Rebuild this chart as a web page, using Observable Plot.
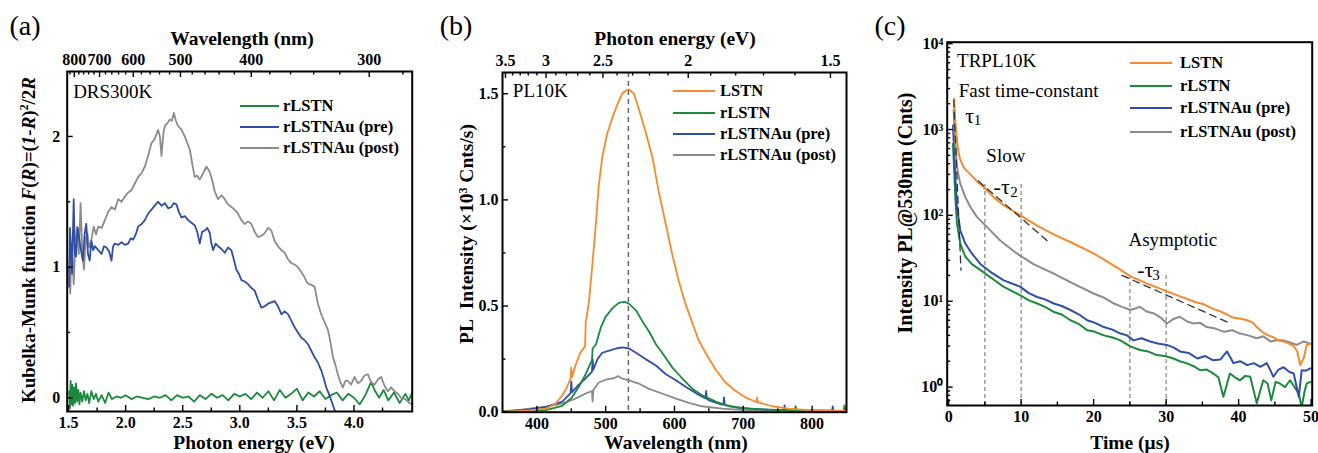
<!DOCTYPE html>
<html><head><meta charset="utf-8">
<script src="https://cdn.jsdelivr.net/npm/d3@7"></script>
<script src="https://cdn.jsdelivr.net/npm/@observablehq/plot@0.6"></script>
<style>
body{margin:0;background:#fff;}
#root{position:relative;width:1318px;height:453px;overflow:hidden;font-family:"Liberation Serif","Times New Roman",serif;color:#000;background:#fff;}
.abs{position:absolute;white-space:nowrap;line-height:1;}
.panel{position:absolute;top:0;}
sup{font-size:0.62em;vertical-align:0.55em;line-height:0;}
</style></head><body><div id="root"></div>
<script>
// ---------------- colours ----------------
const cOrange = "#F68A2C", cGreen = "#1B8A3C", cBlue = "#2F4EA6", cGray = "#8B8B8B";

// ---------------- panel (a): DRS 300K, [photon energy eV, F(R)] ----------------
const aRLSTN = [[1.505,0.05],[1.512,-0.08],[1.518,0.13],[1.525,-0.05],[1.532,0.10],[1.540,-0.06],[1.548,0.08],[1.556,-0.04],[1.565,0.11],[1.575,-0.03],[1.585,0.06],[1.595,-0.05],[1.605,0.04],[1.62,-0.03],[1.635,0.05],[1.65,-0.02],[1.665,0.03],[1.68,-0.04],[1.70,0.05],[1.72,-0.01],[1.74,0.03],[1.76,-0.03],[1.79,0.02],[1.82,-0.04],[1.85,0.04],[1.88,-0.01],[1.92,0.01],[1.96,0.00],[2.00,0.02],[2.05,-0.01],[2.10,0.01],[2.15,0.00],[2.20,-0.01],[2.25,0.01],[2.30,0.00],[2.35,0.02],[2.40,-0.02],[2.45,0.02],[2.50,0.00],[2.55,0.01],[2.60,-0.03],[2.65,0.02],[2.70,-0.01],[2.75,0.03],[2.80,0.00],[2.85,0.02],[2.90,-0.02],[2.95,0.03],[3.00,0.01],[3.05,0.03],[3.10,-0.01],[3.15,0.04],[3.20,0.00],[3.25,0.05],[3.30,-0.02],[3.35,0.06],[3.40,0.00],[3.45,0.03],[3.50,0.07],[3.55,-0.02],[3.60,0.04],[3.65,0.01],[3.70,0.05],[3.75,-0.01],[3.80,0.02],[3.85,0.04],[3.90,-0.02],[3.95,0.03],[4.00,0.00],[4.05,-0.05],[4.10,0.02],[4.15,0.12],[4.18,0.06],[4.22,0.00],[4.26,0.06],[4.30,-0.02],[4.35,0.04],[4.40,-0.04],[4.45,0.03],[4.48,-0.02],[4.51,0.04]];
const aPre = [[1.505,0.85],[1.512,1.30],[1.52,1.18],[1.53,0.95],[1.545,1.52],[1.555,1.10],[1.565,1.08],[1.58,1.30],[1.595,1.21],[1.61,1.12],[1.625,1.05],[1.64,1.25],[1.655,1.33],[1.67,1.10],[1.685,1.05],[1.70,1.20],[1.716,1.13],[1.73,1.16],[1.76,1.13],[1.789,1.10],[1.81,1.16],[1.832,1.15],[1.855,1.12],[1.876,1.05],[1.89,1.16],[1.905,1.18],[1.935,1.17],[1.964,1.19],[1.993,1.17],[2.022,1.18],[2.044,1.22],[2.066,1.21],[2.088,1.25],[2.110,1.31],[2.140,1.33],[2.168,1.36],[2.197,1.41],[2.226,1.44],[2.255,1.47],[2.284,1.50],[2.314,1.47],[2.343,1.49],[2.372,1.45],[2.401,1.46],[2.420,1.49],[2.445,1.48],[2.467,1.42],[2.489,1.38],[2.518,1.39],[2.547,1.36],[2.576,1.34],[2.605,1.32],[2.627,1.27],[2.649,1.18],[2.670,1.27],[2.693,1.28],[2.715,1.30],[2.737,1.26],[2.751,1.18],[2.766,1.13],[2.788,1.18],[2.809,1.16],[2.838,1.14],[2.868,1.11],[2.897,1.15],[2.926,1.13],[2.950,1.05],[2.970,0.98],[2.992,0.95],[3.014,0.90],[3.043,0.89],[3.072,0.87],[3.101,0.84],[3.130,0.82],[3.160,0.75],[3.189,0.69],[3.218,0.70],[3.247,0.72],[3.276,0.73],[3.305,0.74],[3.334,0.70],[3.364,0.64],[3.393,0.66],[3.422,0.64],[3.451,0.59],[3.480,0.54],[3.509,0.50],[3.539,0.46],[3.568,0.44],[3.597,0.41],[3.626,0.36],[3.655,0.31],[3.684,0.27],[3.713,0.21],[3.735,0.15],[3.757,0.08],[3.780,0.03],[3.801,-0.02],[3.825,-0.08],[3.845,-0.13]];
const aPost = [[1.505,1.00],[1.515,0.80],[1.525,1.18],[1.535,1.05],[1.545,0.87],[1.56,1.20],[1.575,1.31],[1.59,1.10],[1.605,1.49],[1.62,1.12],[1.635,0.98],[1.65,1.22],[1.665,1.26],[1.68,1.15],[1.70,1.21],[1.72,1.31],[1.74,1.25],[1.76,1.31],[1.79,1.30],[1.818,1.36],[1.845,1.42],[1.876,1.46],[1.905,1.44],[1.935,1.52],[1.964,1.50],[1.993,1.54],[2.022,1.57],[2.051,1.59],[2.080,1.64],[2.110,1.69],[2.140,1.72],[2.168,1.77],[2.197,1.85],[2.226,1.95],[2.255,1.98],[2.284,2.05],[2.300,2.00],[2.314,1.85],[2.330,2.02],[2.343,2.08],[2.365,2.10],[2.387,2.13],[2.405,2.12],[2.422,2.18],[2.440,2.12],[2.459,2.08],[2.490,2.05],[2.518,2.00],[2.540,1.95],[2.562,1.90],[2.585,1.78],[2.605,1.69],[2.627,1.70],[2.649,1.67],[2.680,1.72],[2.707,1.77],[2.730,1.74],[2.751,1.69],[2.780,1.58],[2.809,1.52],[2.840,1.55],[2.868,1.52],[2.897,1.48],[2.926,1.46],[2.955,1.44],[2.984,1.41],[3.013,1.36],[3.043,1.33],[3.072,1.35],[3.101,1.33],[3.130,1.27],[3.159,1.23],[3.190,1.24],[3.218,1.26],[3.247,1.30],[3.276,1.28],[3.305,1.20],[3.334,1.16],[3.364,1.13],[3.393,1.11],[3.422,1.06],[3.451,1.03],[3.480,1.02],[3.509,1.00],[3.540,0.96],[3.568,0.92],[3.590,0.88],[3.611,0.87],[3.635,0.86],[3.655,0.85],[3.684,0.72],[3.713,0.64],[3.742,0.58],[3.772,0.52],[3.795,0.42],[3.816,0.31],[3.838,0.25],[3.859,0.18],[3.880,0.12],[3.903,0.08],[3.925,0.13],[3.947,0.13],[3.975,0.10],[4.005,0.16],[4.035,0.11],[4.063,0.13],[4.092,0.17],[4.122,0.18],[4.150,0.12],[4.180,0.10],[4.210,0.14],[4.238,0.16],[4.268,0.09],[4.297,0.05],[4.326,0.08],[4.355,0.05],[4.385,0.03],[4.413,0.00],[4.450,-0.01],[4.486,-0.04],[4.51,-0.05]];
const aBottomTicks = [1.5, 2.0, 2.5, 3.0, 3.5, 4.0];
const aLeftTicks = [0, 1, 2];
const aTopWavelengths = [800, 700, 600, 500, 400, 300];

// ---------------- panel (b): PL 10K, [wavelength nm, intensity x10^3] ----------------
const bLSTN = [[350,0.003],[370,0.005],[390,0.009],[413,0.017],[427,0.04],[437,0.08],[444,0.12],[449,0.16],[450,0.21],[451,0.165],[456,0.22],[463,0.28],[470,0.31],[471,0.43],[472,0.44],[476,0.53],[481,0.71],[486,0.90],[490,1.07],[495,1.20],[502,1.31],[510,1.39],[517,1.45],[524,1.50],[529,1.515],[534,1.52],[541,1.50],[548,1.43],[558,1.32],[568,1.20],[577,1.04],[587,0.89],[597,0.74],[606,0.62],[616,0.51],[626,0.42],[635,0.34],[645,0.28],[660,0.20],[674,0.14],[689,0.10],[703,0.07],[719,0.048],[720,0.068],[721,0.047],[742,0.028],[766,0.017],[800,0.009],[849,0.006]];
const bRLSTN = [[350,0.004],[390,0.006],[413,0.01],[437,0.03],[451,0.07],[461,0.12],[471,0.18],[480,0.245],[481,0.30],[486,0.32],[493,0.40],[500,0.45],[510,0.49],[519,0.515],[527,0.52],[534,0.51],[544,0.48],[553,0.43],[563,0.38],[573,0.32],[582,0.28],[597,0.21],[611,0.16],[626,0.11],[640,0.08],[660,0.05],[679,0.028],[708,0.017],[751,0.009],[775,0.008],[776,0.028],[777,0.008],[846,0.006],[847,0.032],[849,0.006]];
const bPre = [[350,0.004],[389,0.013],[413,0.025],[437,0.05],[449,0.09],[450,0.145],[451,0.095],[461,0.13],[471,0.16],[480,0.19],[481,0.25],[482,0.20],[488,0.25],[495,0.28],[505,0.29],[515,0.30],[524,0.305],[534,0.30],[544,0.28],[558,0.25],[573,0.22],[587,0.18],[602,0.15],[616,0.12],[631,0.09],[645,0.065],[646,0.10],[647,0.063],[650,0.056],[669,0.036],[671,0.036],[672,0.07],[673,0.035],[693,0.02],[727,0.013],[759,0.01],[760,0.032],[761,0.01],[776,0.009],[829,0.007],[830,0.027],[831,0.007],[849,0.006]];
const bPost = [[350,0.004],[365,0.006],[389,0.017],[413,0.025],[437,0.04],[456,0.064],[471,0.088],[480,0.10],[481,0.05],[482,0.105],[490,0.14],[500,0.153],[512,0.16],[518,0.17],[524,0.158],[534,0.15],[548,0.135],[563,0.11],[582,0.088],[602,0.064],[621,0.044],[640,0.028],[669,0.017],[708,0.009],[776,0.006],[849,0.005]];
const bPeakWavelength = 533;
const bBottomTicks = [400, 500, 600, 700, 800];
const bLeftTicks = [0, 0.5, 1.0, 1.5];
const bTopEnergies = [3.5, 3, 2.5, 2, 1.5];

// ---------------- panel (c): TRPL 10K, [time us, counts] ----------------
const cLSTN = [[0.75,2280],[0.9,1300],[1.06,895],[1.2,700],[1.38,525],[1.6,450],[2.07,363],[2.5,330],[3.0,300],[3.9,250],[5.06,204],[6.2,163],[7.6,131],[9.9,100],[12.2,76],[14.5,60],[17.2,47],[20.0,36],[22.8,26],[25.1,19.5],[27.4,16],[30.1,13],[32.4,11],[34.0,9.8],[35.2,9.2],[36.4,8.2],[37.5,7.6],[38.4,7.0],[39.3,6.4],[40.2,6.3],[41.2,6.0],[42.0,5.6],[42.5,5.0],[43.4,4.3],[44.1,4.0],[44.8,3.8],[45.5,3.5],[46.2,3.4],[47.0,3.2],[47.6,3.0],[48.1,2.6],[48.5,1.8],[49.0,2.2],[49.4,3.1],[49.9,3.2]];
const cRLSTN = [[0.6,680],[0.8,280],[0.92,163],[1.15,80],[1.6,47],[2.3,33],[3.2,27],[4.4,23],[5.75,19],[7.6,14.7],[9.9,11.7],[11.0,10.3],[12.2,9.4],[13.3,8.6],[14.5,7.5],[15.6,7.0],[16.8,6.0],[18.0,5.4],[19.1,4.6],[20.2,4.4],[21.4,4.0],[22.5,3.8],[23.7,3.5],[25.0,3.0],[26.4,2.7],[27.5,2.6],[28.7,2.36],[29.8,2.3],[31.0,2.15],[31.9,2.0],[32.8,1.9],[33.8,1.75],[34.7,1.57],[35.6,1.6],[36.5,1.44],[37.2,1.3],[37.9,0.77],[38.8,1.44],[39.5,1.3],[40.2,1.2],[40.9,1.35],[41.6,1.32],[42.5,0.65],[43.4,1.2],[44.0,1.1],[44.5,0.70],[45.1,1.15],[45.7,1.1],[46.4,1.0],[47.1,1.2],[47.7,1.0],[48.3,0.84],[48.7,0.58],[49.1,0.9],[49.4,1.1],[49.9,1.15]];
const cPre = [[0.6,1110],[0.8,450],[0.92,280],[1.15,125],[1.6,67],[2.3,47],[3.2,36],[4.4,27],[5.75,22],[7.6,17.5],[9.9,14.7],[11.0,12.5],[12.2,11.2],[13.3,10.5],[14.5,9.4],[15.6,8.8],[16.8,7.9],[18.0,7.0],[19.1,6.0],[20.2,5.6],[21.4,5.0],[22.5,4.7],[23.7,4.2],[24.6,4.0],[25.5,3.5],[26.6,3.7],[27.8,3.4],[29.0,3.2],[30.1,3.1],[31.0,2.9],[31.9,2.6],[33.1,2.5],[34.3,2.15],[35.4,2.3],[36.5,2.05],[37.5,2.1],[38.4,2.6],[39.3,1.9],[40.2,2.0],[41.2,1.8],[42.1,1.9],[43.0,1.72],[43.9,1.9],[44.8,1.32],[45.5,1.6],[46.2,1.7],[47.0,1.5],[47.6,1.44],[48.3,0.77],[48.7,1.57],[49.3,1.55],[49.9,1.65]];
const cPost = [[0.69,1700],[0.8,1000],[0.92,680],[1.15,364],[1.6,234],[2.3,163],[3.0,125],[3.9,96],[5.3,73],[7.1,51],[9.4,36],[11.7,27],[14.5,21],[17.2,16],[20.0,12.3],[21.4,11.0],[22.8,9.4],[23.9,8.6],[25.1,7.9],[26.4,8.6],[27.3,7.6],[28.3,7.2],[29.2,6.5],[30.1,5.5],[31.0,6.2],[31.9,6.6],[32.9,5.8],[33.8,5.5],[34.7,5.6],[35.6,5.0],[36.8,4.8],[38.0,4.4],[39.1,4.6],[40.2,4.2],[41.3,4.0],[42.5,3.7],[43.4,3.9],[44.4,3.4],[45.3,3.5],[46.2,3.5],[47.1,3.3],[48.0,3.1],[49.0,3.4],[49.9,3.2]];
const cFit1 = [[0.7,2200],[1.7,23]];
const cFit2 = [[4.1,251],[13.8,49]];
const cFit3 = [[23.9,20],[38.9,5.5]];
const cGuideT = [5, 10, 25, 30];
const cGuideTop = [244, 233, 20, 20];
const cNoteText = ["TRPL10K", "Fast time-constant", "Slow", "Asymptotic"];
const cNoteT = [1.16, 1.38, 5.2, 24.8];
const cNoteV = [6225, 2840, 499, 52];
const cTauText = ["τ", "-τ", "-τ"];
const cTauT = [2.3, 6.2, 26.0];
const cTauV = [1455, 213, 23.4];
const cSubText = ["1", "2", "3"];
const cSubT = [3.45, 8.5, 28.1];
const cSubV = [1273, 187, 20];
const cBottomTicks = [0, 10, 20, 30, 40, 50];
const cLeftTicks = [1, 10, 100, 1000, 10000];

const legendNames4 = ["LSTN", "rLSTN", "rLSTNAu (pre)", "rLSTNAu (post)"];
const legendColors4 = [cOrange, cGreen, cBlue, cGray];

// ---------------- helpers ----------------
const TF = 16; // tick label font size
const root = document.getElementById("root");
const baseStyle = {fontFamily: "'Liberation Serif','Times New Roman',serif", fontSize: TF + "px", fontWeight: "bold", background: "transparent", color: "black", overflow: "visible"};
const pts = arr => arr.map(([x, y]) => ({x, y}));
function xTicks(vals, len, side, fh) {
  return Plot.ruleX(vals, {x: d => d, stroke: "black", strokeWidth: 1.4,
    insetTop: side === "bottom" ? fh - len : 0, insetBottom: side === "top" ? fh - len : 0});
}
function yTicks(vals, len, fw) {
  return Plot.ruleY(vals, {y: d => d, stroke: "black", strokeWidth: 1.4, insetRight: fw - len});
}
function panel(svg, left) {
  const d = document.createElement("div");
  d.className = "panel";
  d.style.left = left + "px";
  d.appendChild(svg);
  root.appendChild(d);
}
function txt(html, x, y, css) {
  const d = document.createElement("div");
  d.className = "abs";
  d.innerHTML = html;
  d.style.left = x + "px";
  d.style.top = y + "px";
  d.style.cssText += css || "";
  root.appendChild(d);
  return d;
}
function legend(names, colors, x1, x2, xt, ys) {
  names.forEach((n, i) => {
    const s = document.createElement("div");
    s.className = "abs";
    s.style.cssText = `left:${x1}px;top:${ys[i] - 1.2}px;width:${x2 - x1}px;height:0;border-top:2.4px solid ${colors[i]};`;
    root.appendChild(s);
    txt(n, xt, ys[i], "transform:translateY(-50%);font-weight:bold;font-size:16.5px;");
  });
}

// ---------------- panel (a) ----------------
{
  const W = 430, H = 453, mL = 66.7, mR = 18.3, mT = 71, mB = 42;
  const fw = W - mL - mR, fh = H - mT - mB;
  const topMajor = aTopWavelengths.map(w => 1240 / w);
  const topMinor = d3.range(280, 830, 20).filter(w => w % 100 !== 0).map(w => 1240 / w);
  const svg = Plot.plot({
    width: W, height: H, marginLeft: mL, marginRight: mR, marginTop: mT, marginBottom: mB,
    x: {domain: [1.488, 4.51]}, y: {domain: [-0.105, 2.497]},
    style: baseStyle,
    marks: [
      Plot.line(pts(aRLSTN), {x: "x", y: "y", stroke: cGreen, strokeWidth: 1.8, clip: true}),
      Plot.line(pts(aPost), {x: "x", y: "y", stroke: cGray, strokeWidth: 1.8, clip: true}),
      Plot.line(pts(aPre), {x: "x", y: "y", stroke: cBlue, strokeWidth: 1.8, clip: true}),
      xTicks(aBottomTicks, 6, "bottom", fh),
      xTicks(d3.range(1.75, 4.5, 0.5), 3.5, "bottom", fh),
      xTicks(topMajor, 6, "top", fh),
      xTicks(topMinor, 3.5, "top", fh),
      yTicks(aLeftTicks, 6, fw),
      yTicks([0.5, 1.5], 3.5, fw),
      Plot.frame({stroke: "black", strokeWidth: 2}),
      Plot.axisX(aBottomTicks, {anchor: "bottom", tickSize: 0, tickPadding: 5, tickFormat: d3.format(".1f"), fontSize: TF, fontWeight: "bold", label: null}),
      Plot.axisX(topMajor, {anchor: "top", tickSize: 0, tickPadding: 7, tickFormat: e => String(Math.round(1240 / e)), fontSize: TF, fontWeight: "bold", label: null}),
      Plot.axisY(aLeftTicks, {anchor: "left", tickSize: 0, tickPadding: 7, tickFormat: d => String(d), fontSize: TF, fontWeight: "bold", label: null}),
      Plot.text(["DRS300K"], {x: 1.54, y: 2.34, text: d => d, textAnchor: "start", fontSize: 19, fontWeight: "normal"})
    ]
  });
  panel(svg, 0);
}

// ---------------- panel (b) ----------------
{
  const W = 440, H = 453, mL = 72, mR = 24, mT = 72, mB = 41.3;
  const fw = W - mL - mR, fh = H - mT - mB;
  const topMajor = bTopEnergies.map(e => 1240 / e);
  const topMinor = d3.range(15, 36).filter(k => k % 5 !== 0).map(k => 1240 / (k / 10));
  const svg = Plot.plot({
    width: W, height: H, marginLeft: mL, marginRight: mR, marginTop: mT, marginBottom: mB,
    x: {domain: [350, 850]}, y: {domain: [0, 1.6]},
    style: baseStyle,
    marks: [
      Plot.ruleX([bPeakWavelength], {x: d => d, stroke: "#666", strokeWidth: 1.5, strokeDasharray: "5,4"}),
      Plot.line(pts(bPost), {x: "x", y: "y", stroke: cGray, strokeWidth: 1.8, clip: true}),
      Plot.line(pts(bPre), {x: "x", y: "y", stroke: cBlue, strokeWidth: 1.8, clip: true}),
      Plot.line(pts(bRLSTN), {x: "x", y: "y", stroke: cGreen, strokeWidth: 1.8, clip: true}),
      Plot.line(pts(bLSTN), {x: "x", y: "y", stroke: cOrange, strokeWidth: 1.8, clip: true}),
      xTicks(bBottomTicks, 6, "bottom", fh),
      xTicks([450, 550, 650, 750], 3.5, "bottom", fh),
      xTicks(topMajor, 6, "top", fh),
      xTicks(topMinor, 3.5, "top", fh),
      yTicks(bLeftTicks, 6, fw),
      yTicks([0.25, 0.75, 1.25], 3.5, fw),
      Plot.frame({stroke: "black", strokeWidth: 2}),
      Plot.axisX(bBottomTicks, {anchor: "bottom", tickSize: 0, tickPadding: 5, tickFormat: d => String(d), fontSize: TF, fontWeight: "bold", label: null}),
      Plot.axisX(topMajor, {anchor: "top", tickSize: 0, tickPadding: 7, tickFormat: w => String(Math.round(12400 / w) / 10), fontSize: TF, fontWeight: "bold", label: null}),
      Plot.axisY(bLeftTicks, {anchor: "left", tickSize: 0, tickPadding: 4, tickFormat: d3.format(".1f"), fontSize: TF, fontWeight: "bold", label: null}),
      Plot.text(["PL10K"], {x: 365, y: 1.514, text: d => d, textAnchor: "start", fontSize: 19, fontWeight: "normal"})
    ]
  });
  panel(svg, 430);
}

// ---------------- panel (c) ----------------
{
  const W = 448, H = 453, mL = 76.7, mR = 6.3, mT = 41.7, mB = 48;
  const fw = W - mL - mR, fh = H - mT - mB;
  const minor = [];
  for (let p = -1; p <= 3; p++) for (let k = 2; k <= 9; k++) { const v = k * 10 ** p; if (v > 0.61 && v < 10400) minor.push(v); }
  const sup = "⁰¹²³⁴";
  const svg = Plot.plot({
    width: W, height: H, marginLeft: mL, marginRight: mR, marginTop: mT, marginBottom: mB,
    x: {domain: [-0.2, 50.15]}, y: {type: "log", domain: [0.61, 10400]},
    style: baseStyle,
    marks: [
      Plot.ruleX(cGuideT.map((t, i) => ({t, top: cGuideTop[i]})), {x: "t", y1: 0.61, y2: "top", stroke: "#777", strokeWidth: 1.1, strokeDasharray: "4,3"}),
      Plot.line(pts(cRLSTN), {x: "x", y: "y", stroke: cGreen, strokeWidth: 2, clip: true}),
      Plot.line(pts(cPre), {x: "x", y: "y", stroke: cBlue, strokeWidth: 2, clip: true}),
      Plot.line(pts(cPost), {x: "x", y: "y", stroke: cGray, strokeWidth: 2, clip: true}),
      Plot.line(pts(cLSTN), {x: "x", y: "y", stroke: cOrange, strokeWidth: 2, clip: true}),
      Plot.line(pts(cFit1), {x: "x", y: "y", stroke: "#333", strokeWidth: 1.3, strokeDasharray: "7,5"}),
      Plot.line(pts(cFit2), {x: "x", y: "y", stroke: "#333", strokeWidth: 1.3, strokeDasharray: "7,5"}),
      Plot.line(pts(cFit3), {x: "x", y: "y", stroke: "#333", strokeWidth: 1.3, strokeDasharray: "7,5"}),
      xTicks(cBottomTicks, 6, "bottom", fh),
      xTicks([5, 15, 25, 35, 45], 3.5, "bottom", fh),
      yTicks(cLeftTicks, 6, fw),
      yTicks(minor, 3.5, fw),
      Plot.frame({stroke: "black", strokeWidth: 2}),
      Plot.axisX(cBottomTicks, {anchor: "bottom", tickSize: 0, tickPadding: 5, tickFormat: d => String(d), fontSize: TF, fontWeight: "bold", label: null}),
      Plot.axisY(cLeftTicks, {anchor: "left", tickSize: 0, tickPadding: 4, tickFormat: d => "10" + sup[Math.round(Math.log10(d))], fontSize: TF, fontWeight: "bold", label: null}),
      Plot.text(cNoteText.map((s, i) => ({s, t: cNoteT[i], v: cNoteV[i]})), {x: "t", y: "v", text: "s", textAnchor: "start", fontSize: 19, fontWeight: "normal"}),
      Plot.text(cTauText.map((s, i) => ({s, t: cTauT[i], v: cTauV[i]})), {x: "t", y: "v", text: "s", textAnchor: "start", fontSize: 22, fontWeight: "normal"}),
      Plot.text(cSubText.map((s, i) => ({s, t: cSubT[i], v: cSubV[i]})), {x: "t", y: "v", text: "s", textAnchor: "start", fontSize: 15, fontWeight: "normal"})
    ]
  });
  panel(svg, 870);
}

// ---------------- titles, labels, legends ----------------
const rot = "transform:translate(-50%,-50%) rotate(-90deg);";
const ctr = "transform:translate(-50%,-50%);";
const bt = "font-weight:bold;font-size:19.5px;line-height:0.8;";
txt("(a)", 25, 26, ctr + "font-size:28px;");
txt("(b)", 456, 26, ctr + "font-size:28px;");
txt("(c)", 890, 26, ctr + "font-size:28px;");
txt("Wavelength (nm)", 242, 39, ctr + bt);
txt("Photon energy (eV)", 254, 443, ctr + bt);
txt("Kubelka-Munk function <i>F</i>(<i>R</i>)=(<i>1-R</i>)<sup>2</sup>/2<i>R</i>", 28, 240, rot + "font-weight:bold;font-size:19px;");
txt("Photon energy (eV)", 675, 39, ctr + bt);
txt("Wavelength (nm)", 676, 443, ctr + bt);
txt("PL&nbsp; Intensity (×10<sup>3</sup> Cnts/s)", 467, 234, rot + "font-weight:bold;font-size:19.5px;");
txt("Time (μs)", 1130, 443, ctr + bt);
txt("Intensity PL@530nm (Cnts)", 905, 213, rot + "font-weight:bold;font-size:20px;");
legend(legendNames4.slice(1), legendColors4.slice(1), 240, 279, 283, [106, 127, 148]);
legend(legendNames4, legendColors4, 673, 715, 720, [91, 113, 134, 155]);
legend(legendNames4, legendColors4, 1130, 1172, 1180, [63, 86, 108, 132]);
</script></body></html>
